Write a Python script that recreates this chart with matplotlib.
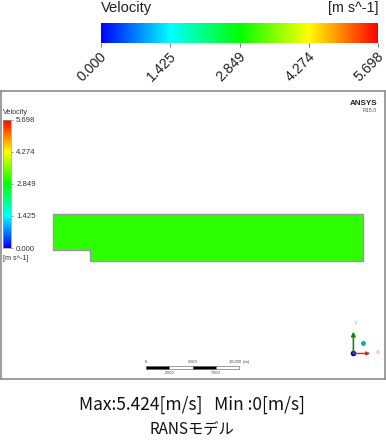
import matplotlib
matplotlib.use('Agg')
import matplotlib.pyplot as plt
from matplotlib.cm import ScalarMappable
from matplotlib.colors import LinearSegmentedColormap, Normalize
from matplotlib.transforms import ScaledTranslation

# velocity scale
tick_values = [0.000, 1.425, 2.849, 4.274, 5.698]
tick_labels = ['0.000', '1.425', '2.849', '4.274', '5.698']
cmap_colors = ['#0000ff', '#00ffff', '#00ff00', '#ffff00', '#ff0000']

# domain outline in metres, and the velocity it is filled with
shape_x = [0, 33.3, 33.3, 4.0, 4.0, 0, 0]
shape_y = [5.05, 5.05, 0, 0, 1.2, 1.2, 5.05]
shape_velocity = 3.1

# scale bar
scale_edges = [10, 12.5, 15, 17.5, 20]
scale_top_labels = ['0', '5.000', '10.000  (m)']
scale_bottom_labels = ['2.500', '7.500']

W, H = 386, 440
AR = 'Liberation Sans'
GRAY = '#8c8c8c'


def px_axes(fig, x0, y0, x1, y1):
    # pixel box with y going down
    return fig.add_axes([x0 / W, 1 - y1 / H, (x1 - x0) / W, (y1 - y0) / H])


cmap = LinearSegmentedColormap.from_list('ansys', cmap_colors)
norm = Normalize(tick_values[0], tick_values[-1])
sm = ScalarMappable(norm=norm, cmap=cmap)

fig = plt.figure(figsize=(W / 100, H / 100), dpi=100)

# big colorbar on top
cax = px_axes(fig, 101, 23, 378, 43)
cb = fig.colorbar(sm, cax=cax, orientation='horizontal')
cb.outline.set_visible(False)
cb.set_ticks(tick_values)
cax.set_xticklabels(tick_labels, rotation=45, ha='right', rotation_mode='anchor',
                    fontsize=10.2, family=AR, color='#222222')
cax.tick_params(axis='x', length=3, width=0.7, color='#777777', pad=1.5)
for lab in cax.get_xticklabels():
    lab.set_transform(lab.get_transform() + ScaledTranslation(-1 / 72, 0, fig.dpi_scale_trans))
fig.text(101 / W, 1 - 12 / H, 'Velocity', fontsize=10.6, family=AR, color='#222222')
fig.text(378 / W, 1 - 12 / H, '[m s^-1]', fontsize=10.3, family=AR, color='#222222', ha='right')

# main panel, data in metres
ax = px_axes(fig, 1, 91, 385, 379)
ax.set_xlim(-5.6, 35.7)
ax.set_ylim(-12.7, 18.3)
ax.set_xticks([])
ax.set_yticks([])
for s in ax.spines.values():
    s.set_color(GRAY)
    s.set_linewidth(1.2)
ax.fill(shape_x, shape_y, facecolor=cmap(norm(shape_velocity)), edgecolor='#a090a8', linewidth=1)

# scale bar
for i in range(len(scale_edges) - 1):
    ax.fill_between(scale_edges[i:i + 2], -11.6, -11.25,
                    color='black' if i % 2 == 0 else 'white',
                    edgecolor='#555555', linewidth=0.4)
for x, lab in zip(scale_edges[::2], scale_top_labels):
    ax.text(x, -11.1, lab, fontsize=2.8, family=AR, ha='center', va='bottom', color='#333333')
for x, lab in zip(scale_edges[1::2], scale_bottom_labels):
    ax.text(x, -11.8, lab, fontsize=2.8, family=AR, ha='center', va='top', color='#333333')

# axis triad
ax.annotate('', xy=(34.1, -9.95), xytext=(32.3, -9.95),
            arrowprops=dict(arrowstyle='-|>', color='#e02020', lw=1, mutation_scale=5, shrinkA=0, shrinkB=0))
ax.annotate('', xy=(32.3, -7.6), xytext=(32.3, -9.95),
            arrowprops=dict(arrowstyle='-|>', color='#108a10', lw=1.2, mutation_scale=6, shrinkA=0, shrinkB=0))
ax.plot([32.3], [-9.95], 'o', color='#0000c0', ms=3)
ax.plot([33.3], [-8.8], 'o', color='#00b0b0', ms=2.5)
ax.text(34.9, -9.8, 'X', fontsize=4, family=AR, color='#e08080', ha='center', va='center')
ax.text(32.5, -6.7, 'Y', fontsize=4, family=AR, color='#80b080', ha='center', va='center')

# ANSYS logo text
fig.text(377 / W, 1 - 103 / H, 'ANSYS', fontsize=5.8, family=AR, weight='bold', ha='right', va='center', color='#222222')
fig.text(377 / W, 1 - 110.5 / H, 'R15.0', fontsize=3.8, family=AR, ha='right', va='center', color='#555555')

# small colorbar inside the panel
sax = px_axes(fig, 3, 120, 11, 248)
scb = fig.colorbar(sm, cax=sax)
scb.outline.set_edgecolor('#999999')
scb.outline.set_linewidth(0.5)
scb.set_ticks(tick_values)
sax.set_yticklabels(tick_labels, fontsize=5.6, family=AR, color='#333333')
sax.tick_params(axis='y', length=1.5, width=0.5, color='#777777', pad=2.2)
fig.text(3 / W, 1 - 112 / H, 'Velocity', fontsize=5.2, family=AR, color='#333333', va='center')
fig.text(3 / W, 1 - 258 / H, '[m s^-1]', fontsize=5.2, family=AR, color='#333333', va='center')

# captions
cap_font = ['Noto Sans CJK JP', 'DejaVu Sans']
fig.text(192 / W, 1 - 405 / H, 'Max:5.424[m/s]   Min :0[m/s]', fontsize=12.5, family=cap_font,
         ha='center', va='center', color='#111111')
fig.text(192 / W, 1 - 429 / H, 'RANSモデル', fontsize=11, family=cap_font,
         ha='center', va='center', color='#111111')

fig.savefig('out.png', dpi=100)
